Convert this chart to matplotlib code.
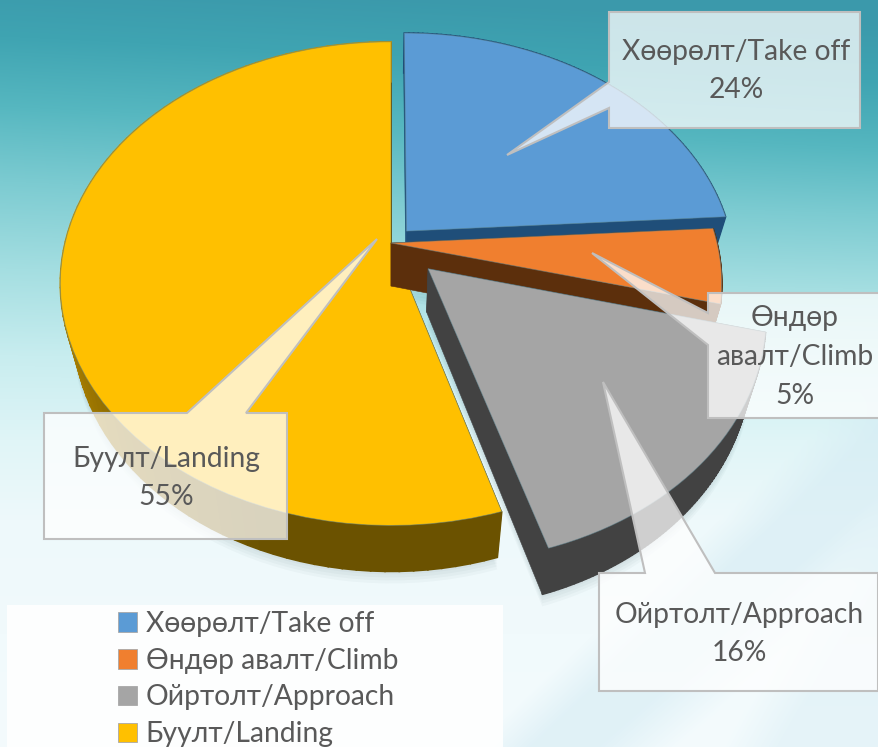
import numpy as np
import matplotlib
matplotlib.use("Agg")
import matplotlib.pyplot as plt
from matplotlib.patches import Polygon, Patch, Rectangle
from matplotlib.path import Path
from matplotlib.transforms import Transform, Affine2D

labels = ["Хөөрөлт/Take off", "Өндөр авалт/Climb", "Ойртолт/Approach", "Буулт/Landing"]
callout_text = ["Хөөрөлт/Take off", "Өндөр\nавалт/Climb", "Ойртолт/Approach", "Буулт/Landing"]
values = [24.0, 5.0, 16.4, 54.6]
explode = [0.07, 0.0, 0.155, 0.0]
colors = ["#5B9BD5", "#F07F2F", "#A5A5A5", "#FFC000"]
side_colors = ["#1F4E79", "#5C2F0C", "#424242", "#6B5200"]

W, H = 879, 747
plt.rcParams["font.family"] = ["Lato", "Noto Sans", "DejaVu Sans"]
FS = 20.3
TXT = "#595959"

class Persp(Transform):
    """Tilted-disc projection of the unit pie into picture pixels."""
    input_dims = output_dims = 2
    is_separable = False
    has_inverse = False
    def __init__(self, cx=391, cy=243, a=326, b=235, k=0.168, sx=1.0, d0=0.0, d1=0.0):
        super().__init__()
        self.p = (cx, cy, a, b, k, sx, d0, d1)
    def transform_non_affine(self, xy):
        cx, cy, a, b, k, sx, d0, d1 = self.p
        xy = np.asarray(xy, float)
        x, y = xy[:, 0], xy[:, 1]
        w = 1 + k * y
        return np.column_stack([cx + sx * a * x / w, cy - b * y / w + d0 - d1 * y])
    def transform_path_non_affine(self, path):
        big = Affine2D().scale(400)
        polys = big.transform_path(path).to_polygons(closed_only=True)
        verts = np.concatenate(polys) / 400.0
        return Path(self.transform_non_affine(verts), closed=True)

top = Persp()
low = Persp(sx=0.96, d0=43, d1=3)

fig = plt.figure(figsize=(W / 100, H / 100), dpi=100)
ax = fig.add_axes([0, 0, 1, 1])

wedges, _ = ax.pie(values, explode=explode, colors=colors, startangle=90,
                   counterclock=False, radius=1, normalize=True)
ax.set_aspect("auto")
ax.set_xlim(0, W)
ax.set_ylim(H, 0)
ax.axis("off")

# background
yy, xx = np.mgrid[0:H, 0:W]
stops_y = [0, 60, 130, 200, 280, 360, 440, 520, 747]
stops = np.array([matplotlib.colors.to_rgb(c) for c in
                  ["#3B99AB", "#3FA4B2", "#56B7C0", "#7CCBD1", "#A4DEE1",
                   "#C8EDEF", "#E0F5F7", "#EEF9FB", "#F4FBFD"]])
shift = ((W - xx) * 0.05 - 20) * np.clip((420 - yy) / 300, 0, 1)
bg = np.stack([np.interp(yy + shift, stops_y, stops[:, i]) for i in range(3)], axis=-1)
band1 = np.clip((xx + 1.1 * yy - 1290) / 60, 0, 1) * np.clip((1500 - (xx + 1.1 * yy)) / 80, 0, 1)
band2 = np.clip((xx * 1.6 + yy - 1900) / 90, 0, 1)
tint = np.array(matplotlib.colors.to_rgb("#D4EBF3"))
for band, al in ((band1, 0.6), (band2, 0.45)):
    bg = bg * (1 - al * band[..., None]) + tint * al * band[..., None]
ax.imshow(bg, extent=(0, W, H, 0), aspect="auto", zorder=0, interpolation="bilinear")


def rim(w, t0, t1, n=2):
    t = np.radians(np.linspace(t0, t1, n))
    cx, cy = w.center
    return np.column_stack([cx + np.cos(t), cy + np.sin(t)])


for w in wedges:
    cx, cy = w.center
    ring = np.vstack([[cx, cy], rim(w, w.theta1, w.theta2, 80)])
    for s in (3, 6, 9, 12):
        pts = low.transform(ring) + [0, s]
        ax.add_patch(Polygon(pts, closed=True, fc="#305060", ec="none", alpha=0.035, zorder=1))

for i in [0, 3, 1, 2]:
    w = wedges[i]
    base = 10 + 10 * [0, 3, 1, 2].index(i)
    for th in (w.theta1, w.theta2):
        c = np.array([w.center])
        p = rim(w, th, th)[:1]
        poly = np.vstack([top.transform(c), top.transform(p), low.transform(p), low.transform(c)])
        ax.add_patch(Polygon(poly, closed=True, fc=side_colors[i], ec=side_colors[i], lw=0.4, zorder=base))
    steps = np.linspace(w.theta1, w.theta2, 91)
    for t0, t1 in zip(steps[:-1], steps[1:]):
        p = rim(w, t0, t1)
        poly = np.vstack([top.transform(p), low.transform(p[::-1])])
        col = side_colors[i]
        if i == 3:
            tm = ((t0 + t1) / 2) % 360
            f = 1.0 if tm < 180 else (0.0 if tm >= 270 else float(np.clip((250 - tm) / 70, 0, 1)))
            col = tuple(np.array(matplotlib.colors.to_rgb("#6B5200")) * (1 - f)
                        + np.array(matplotlib.colors.to_rgb("#C49300")) * f)
        ax.add_patch(Polygon(poly, closed=True, fc=col, ec=col, lw=1.2, zorder=base + 1))
    w.set_transform(top + ax.transData)
    w.set_zorder(base + 2)
    w.set_edgecolor((0.35, 0.5, 0.55, 0.55))
    w.set_linewidth(0.6)

# callouts: box corners with the pointer spliced into one edge
callouts = [
    ([(609, 12), (860, 12), (860, 128), (609, 128), (609, 108), (507, 155), (609, 82)], (736, 71)),
    ([(708, 293), (882, 293), (882, 418), (708, 418), (708, 345), (592, 253), (708, 313)], (795, 357)),
    ([(599, 573), (645, 573), (603, 382), (715, 573), (878, 573), (878, 691), (599, 691)], (739, 634)),
    ([(44, 413), (187, 413), (377, 239), (246, 413), (287, 413), (287, 539), (44, 539)], (166, 478)),
]
for (poly, (tx, ty)), txt, v in zip(callouts, callout_text, values):
    ax.add_patch(Polygon(poly, closed=True, fc=(1, 1, 1, 0.75), ec="#BFBFBF", lw=1.5,
                         joinstyle="miter", zorder=60))
    ax.text(tx, ty, f"{txt}\n{round(v)}%", ha="center", va="center", fontsize=FS, color=TXT,
            linespacing=1.6, zorder=61)

# legend
ax.add_patch(Rectangle((7, 605), 496, 142, fc=(1, 1, 1, 0.9), ec="none", zorder=55))
handles = [Patch(facecolor=c, edgecolor="#A8A8A8", linewidth=0.6) for c in colors]
leg = ax.legend(handles, labels, loc="upper left", bbox_to_anchor=(118 / W, 1 - 611 / H),
                bbox_transform=ax.transAxes, frameon=False, fontsize=FS, labelcolor=TXT,
                handlelength=0.68, handleheight=0.68, handletextpad=0.3, labelspacing=0.38,
                borderpad=0, borderaxespad=0)
leg.set_zorder(62)

fig.savefig("out.png", dpi=100)
